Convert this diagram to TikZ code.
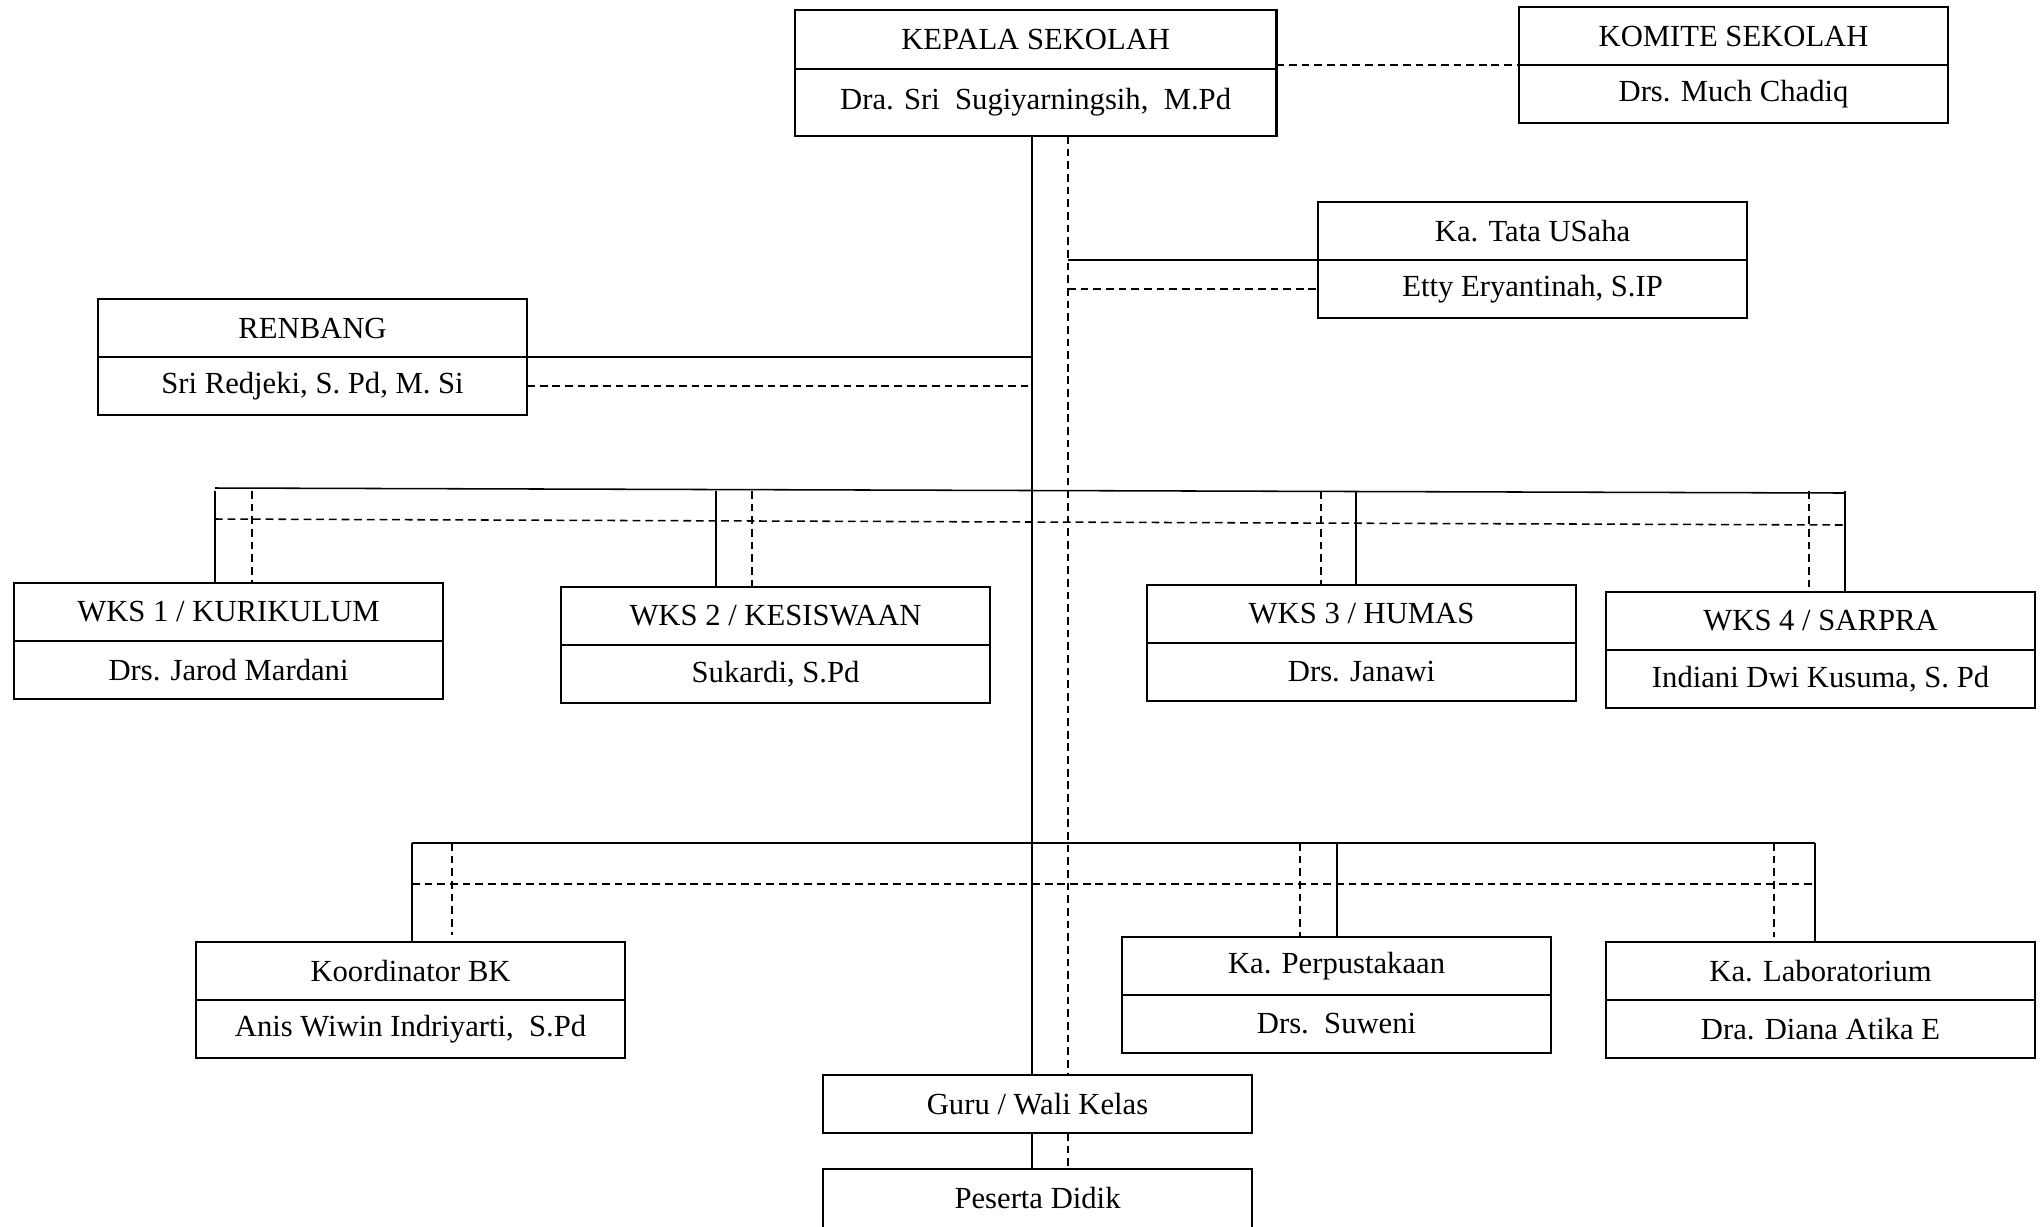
\documentclass[tikz,border=0pt]{standalone}
\usepackage{fontspec}
\setmainfont{Liberation Serif}
\usetikzlibrary{positioning}

\begin{document}
\begin{tikzpicture}[
    x=0.025cm, y=-0.025cm,
    cell/.style  = {draw, line width=1.7pt, outer sep=0pt, inner sep=0pt,
                    minimum width=10.725cm, minimum height=1.45cm,
                    font=\fontsize{21.8}{26}\selectfont},
    link/.style  = {line width=1.1pt},
    dlink/.style = {line width=1.1pt, dash pattern=on 5.5pt off 3.5pt}
  ]
    \useasboundingbox (0,0) rectangle (2044,1226);

    %% ---- top: kepala sekolah and komite ----
    \node[cell, anchor=north west, minimum width=12.03cm, minimum height=1.475cm] (ks) at (795,10) {KEPALA SEKOLAH};
    \node[cell, below=0pt of ks, minimum width=12.03cm, minimum height=1.675cm] (ksn) {Dra. Sri\ \ Sugiyarningsih,\ \ M.Pd};

    \node[cell, anchor=north west] (km) at (1519,7) {KOMITE SEKOLAH};
    \node[cell, below=0pt of km] (kmn) {Drs. Much Chadiq};

    \draw[dlink] (kmn.north west -| ksn.east) -- (kmn.north west);

    %% ---- staff boxes beside the spine ----
    \node[cell, anchor=north west] (tu) at (1318,202) {Ka. Tata USaha};
    \node[cell, below=0pt of tu] (tun) {Etty Eryantinah, S.IP};

    \node[cell, anchor=north west] (rb) at (98,299) {RENBANG};
    \node[cell, below=0pt of rb] (rbn) {Sri Redjeki, S. Pd, M. Si};

    %% ---- wakil kepala sekolah ----
    \node[cell, anchor=north west] (w1) at (14,583) {WKS 1 / KURIKULUM};
    \node[cell, below=0pt of w1] (w1n) {Drs. Jarod Mardani};
    \node[cell, anchor=north west] (w2) at (561,587) {WKS 2 / KESISWAAN};
    \node[cell, below=0pt of w2] (w2n) {Sukardi, S.Pd};
    \node[cell, anchor=north west] (w3) at (1147,585) {WKS 3 / HUMAS};
    \node[cell, below=0pt of w3] (w3n) {Drs. Janawi};
    \node[cell, anchor=north west] (w4) at (1606,592) {WKS 4 / SARPRA};
    \node[cell, below=0pt of w4] (w4n) {Indiani Dwi Kusuma, S. Pd};

    %% ---- BK, perpustakaan, laboratorium ----
    \node[cell, anchor=north west] (bk) at (196,942) {Koordinator BK};
    \node[cell, below=0pt of bk] (bkn) {Anis Wiwin Indriyarti,\ \ S.Pd};
    \node[cell, anchor=north west] (pp) at (1122,937) {Ka. Perpustakaan};
    \node[cell, below=0pt of pp] (ppn) {Drs.\ \ Suweni};
    \node[cell, anchor=north west] (lb) at (1606,942) {Ka. Laboratorium};
    \node[cell, below=0pt of lb] (lbn) {Dra. Diana Atika E};

    %% ---- guru and peserta didik (cut by the page edge) ----
    \node[cell, anchor=north west] (guru) at (823,1075) {Guru / Wali Kelas};
    \node[cell, anchor=north west, draw=none] (ps) at (823,1169) {Peserta Didik};
    \draw[line width=1.7pt] (ps.north west) ++(0,100) -- (ps.north west)
      -- (ps.north east) -- ++(0,100);

    %% ---- spine: solid line and dashed line ----
    \coordinate (spine)  at (1032,136);
    \coordinate (dspine) at (1068,136);
    \draw[link]  (spine) -- (spine |- guru.north);
    \draw[link]  (guru.south -| spine) -- (spine |- ps.north);
    \draw[dlink] (dspine) -- (dspine |- guru.north);
    \draw[dlink] (guru.south -| dspine) -- (dspine |- ps.north);

    \draw[link]  (dspine |- tun.north) -- (tun.north west);
    \draw[dlink] (dspine |- tun.west) -- (tun.west);
    \draw[link]  (rbn.north east) -- (spine |- rbn.north);
    \draw[dlink] (rbn.east) -- (spine |- rbn.east);

    %% ---- bus to the WKS boxes ----
    \coordinate (busA)  at (215,488);
    \coordinate (busB)  at (1845,493);
    \coordinate (dbusA) at (215,519);
    \coordinate (dbusB) at (1845,525);
    \draw[link]  (busA) -- (busB);
    \draw[dlink] (dbusA) -- (dbusB);
    \foreach \s/\d/\n in {215/252/w1, 716/752/w2, 1356/1321/w3, 1845/1809/w4} {
      \draw[link]  (\s,491) -- (\s,491 |- \n.north);
      \draw[dlink] (\d,491) -- (\d,491 |- \n.north);
    }

    %% ---- bus to BK, perpustakaan, laboratorium ----
    \coordinate (busC)  at (412,843);
    \coordinate (busD)  at (1815,843);
    \coordinate (dbusC) at (412,884);
    \coordinate (dbusD) at (1815,884);
    \draw[link]  (busC) -- (busD);
    \draw[dlink] (dbusC) -- (dbusD);
    \draw[link]  (busC) -- (busC |- bk.north);
    \draw[dlink] (452,843) -- (452,935);
    \draw[dlink] (1300,843) -- (1300,843 |- pp.north);
    \draw[link]  (1337,843) -- (1337,843 |- pp.north);
    \draw[dlink] (1774,843) -- (1774,937);
    \draw[link]  (busD) -- (busD |- lb.north);
  \end{tikzpicture}
\end{document}
